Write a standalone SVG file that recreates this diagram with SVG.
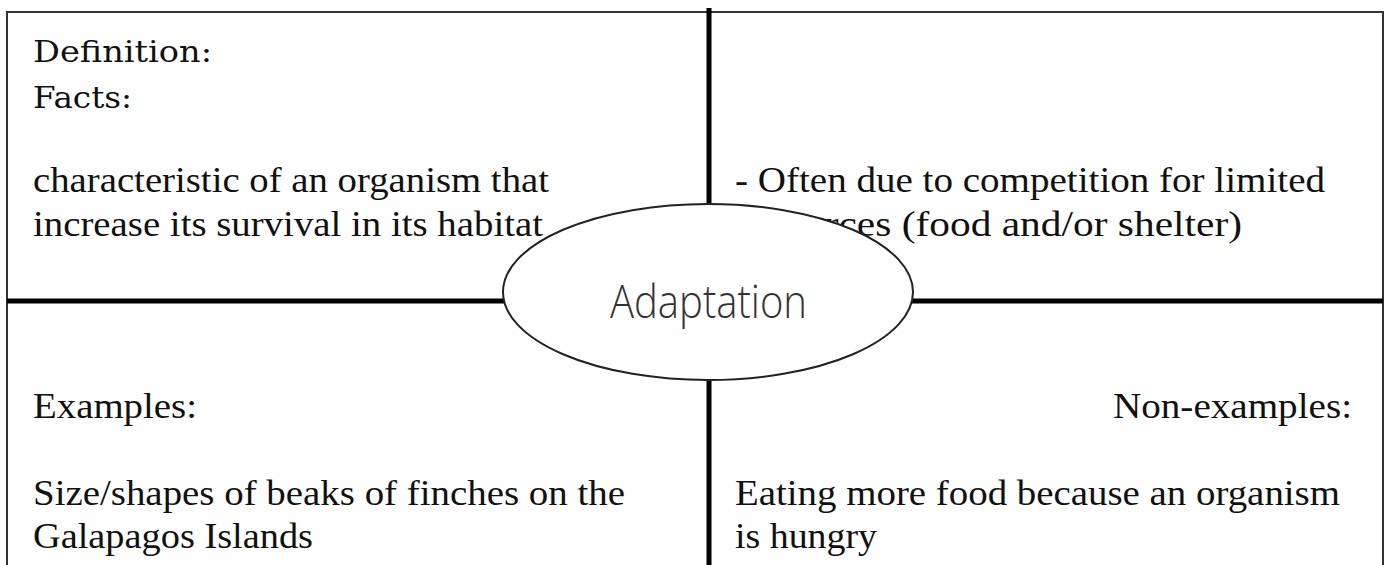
<svg xmlns="http://www.w3.org/2000/svg" width="1385" height="565" viewBox="0 0 1385 565">
<style>
.t{font-family:"Liberation Serif","Times New Roman",serif;font-size:35px;fill:#111}
.h{font-family:"DejaVu Serif","Liberation Serif",serif;font-size:29px;fill:#111}
.div{stroke:#000;stroke-width:5;fill:none}
.brd{stroke:#333;stroke-width:2;fill:none}
</style>
<rect width="1385" height="565" fill="#fff"/>
<g id="connectors">
<rect class="brd" x="7" y="12" width="1376" height="570"/>
<line class="div" x1="709" y1="8" x2="709" y2="565"/>
<line class="div" x1="7" y1="301" x2="1383" y2="301"/>
</g>
<g id="definition">
<text class="h" x="33" y="62" textLength="179" lengthAdjust="spacingAndGlyphs">Definition:</text>
<text class="h" x="33" y="108" textLength="99" lengthAdjust="spacingAndGlyphs">Facts:</text>
<text class="t" x="33" y="192" textLength="516" lengthAdjust="spacingAndGlyphs">characteristic of an organism that</text>
<text class="t" x="33" y="236" textLength="510" lengthAdjust="spacingAndGlyphs">increase its survival in its habitat</text>
</g>
<g id="facts">
<text class="t" x="735" y="192" textLength="590" lengthAdjust="spacingAndGlyphs">- Often due to competition for limited</text>
<text class="t" x="735" y="236" textLength="507" lengthAdjust="spacingAndGlyphs">resources (food and/or shelter)</text>
</g>
<g id="examples">
<text class="t" x="33" y="418" textLength="164" lengthAdjust="spacingAndGlyphs">Examples:</text>
<text class="t" x="33" y="505" textLength="592" lengthAdjust="spacingAndGlyphs">Size/shapes of beaks of finches on the</text>
<text class="t" x="33" y="548" textLength="280" lengthAdjust="spacingAndGlyphs">Galapagos Islands</text>
</g>
<g id="nonexamples">
<text class="t" x="1113" y="418" textLength="239" lengthAdjust="spacingAndGlyphs">Non-examples:</text>
<text class="t" x="735" y="505" textLength="605" lengthAdjust="spacingAndGlyphs">Eating more food because an organism</text>
<text class="t" x="735" y="548" textLength="142" lengthAdjust="spacingAndGlyphs">is hungry</text>
</g>
<g id="adaptation">
<ellipse cx="708" cy="292" rx="205" ry="88" fill="#fff" stroke="#222" stroke-width="2"/>
<text x="610" y="318" textLength="197" lengthAdjust="spacingAndGlyphs" style="font-family:'Open Sans',sans-serif;font-weight:300;font-size:46px;fill:#333">Adaptation</text>
</g>
</svg>
